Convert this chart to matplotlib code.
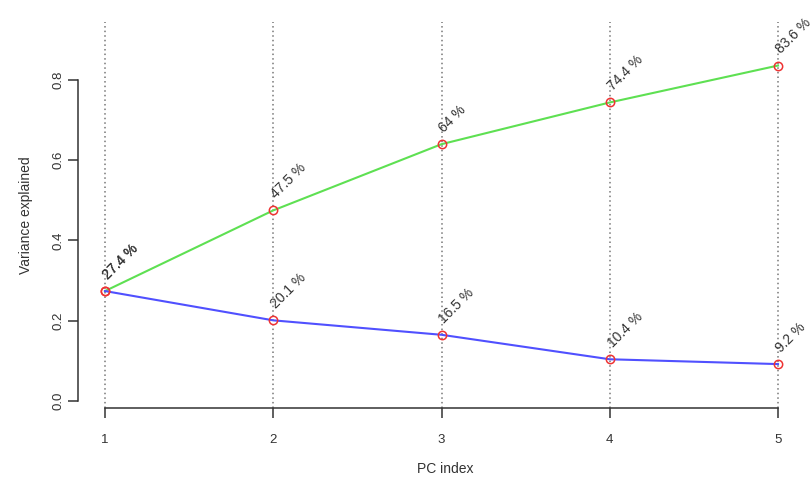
import matplotlib.pyplot as plt
import numpy as np

plt.rcParams['font.family'] = ['Liberation Sans', 'DejaVu Sans']

# PCA variance explained per component and cumulative
pc_index = [1, 2, 3, 4, 5]
var_single = [0.274, 0.201, 0.165, 0.104, 0.092]
var_cumul = [0.274, 0.475, 0.640, 0.744, 0.836]
lab_single = ["27.4 %", "20.1 %", "16.5 %", "10.4 %", "9.2 %"]
lab_cumul = ["27.4 %", "47.5 %", "64 %", "74.4 %", "83.6 %"]
y_ticks = [0.0, 0.2, 0.4, 0.6, 0.8]

W, H = 812, 483
fig = plt.figure(figsize=(W / 100, H / 100), dpi=100)
# axes box in pixels: left 78, right 812, top 22, bottom 408
ax = fig.add_axes([78 / W, 1 - 408 / H, (812 - 78) / W, (408 - 22) / H])
ax.set_xlim(0.8395, 5.202)
ax.set_ylim(-0.01745, 0.9445)

txt = '#333333'
for x in pc_index:
    ax.axvline(x, color='#777777', linestyle=(0, (1, 2)), linewidth=1.1, zorder=1)

ax.plot(pc_index, var_cumul, color='#5ee052', linewidth=1.5, zorder=2)
ax.plot(pc_index, var_single, color='#5050ff', linewidth=1.5, zorder=2)
for ys in (var_cumul, var_single):
    ax.plot(pc_index, ys, 'o', markersize=6, markerfacecolor='none',
            markeredgecolor='#ee3333', markeredgewidth=1.1, zorder=3)

for ys, labs in ((var_cumul, lab_cumul), (var_single, lab_single)):
    for x, y, s in zip(pc_index, ys, labs):
        ax.annotate(s, (x, y), xytext=(0, 10), textcoords='offset points',
                    rotation=45, rotation_mode='anchor', ha='left', va='center',
                    fontsize=10, color=txt, annotation_clip=False)

for side in ('top', 'right'):
    ax.spines[side].set_visible(False)
ax.spines['left'].set_bounds(0, 0.8)
ax.spines['bottom'].set_bounds(1, 5)
for side in ('left', 'bottom'):
    ax.spines[side].set_color('#333333')
    ax.spines[side].set_linewidth(1.1)

ax.set_xticks(pc_index)
ax.set_yticks(y_ticks)
ax.set_yticklabels([f"{v:.1f}" for v in y_ticks], rotation=90, va='center')
ax.tick_params(axis='both', colors='#333333', labelcolor=txt, length=7,
               width=1.1, labelsize=9.5)
ax.tick_params(axis='x', pad=12)
ax.tick_params(axis='y', pad=3)

ax.set_xlabel("PC index", fontsize=10, color=txt, labelpad=11)
ax.set_ylabel("Variance explained", fontsize=10, color=txt, labelpad=14)

fig.savefig("out.png", dpi=100)
